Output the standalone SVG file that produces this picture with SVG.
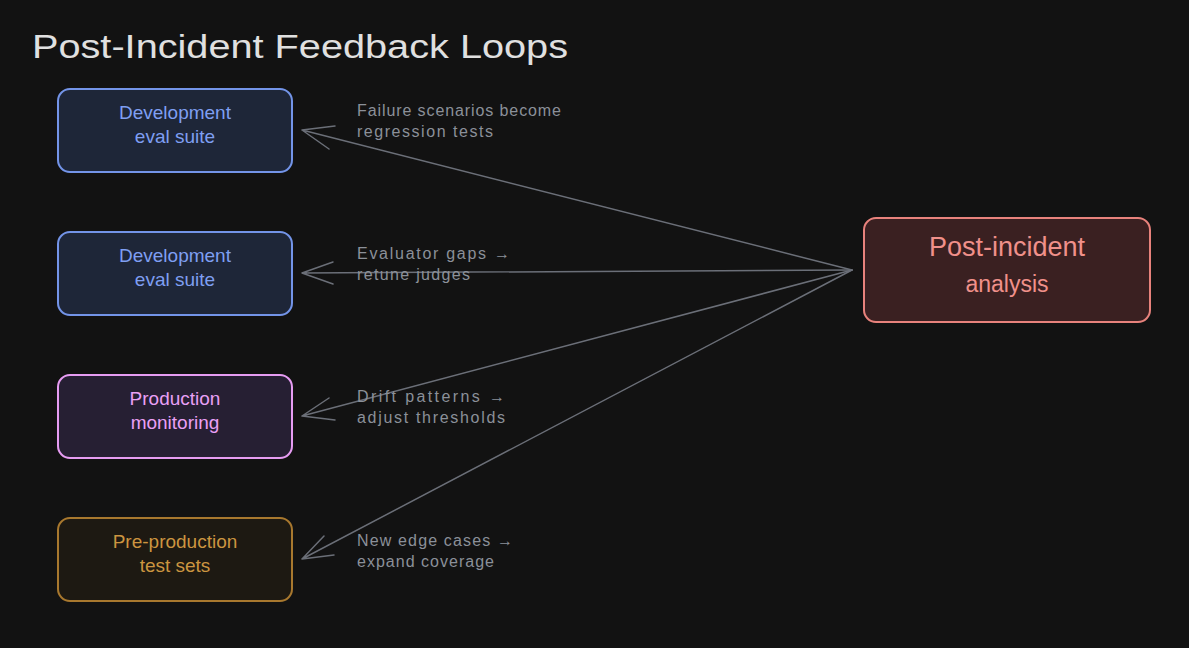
<svg xmlns="http://www.w3.org/2000/svg" width="1189" height="648" viewBox="0 0 1189 648">
<style>
text{font-family:"Liberation Sans","Open Sans",sans-serif}
.title{font-size:34px;fill:#e0e0e0}
.node rect{stroke-width:2}
.nt{font-size:19px;text-anchor:middle}
.lbl{font-size:16px;fill:#8b9099}
.conn path{fill:none;stroke:#6b6f78;stroke-width:1.5;stroke-linecap:round;stroke-linejoin:round}
.blue rect{fill:#1e2638;stroke:#7394e8}
.blue text{fill:#7f9ff2}
.pink rect{fill:#261f33;stroke:#e69cf2}
.pink text{fill:#eaa0f6}
.gold rect{fill:#1d1912;stroke:#a8782e}
.gold text{fill:#cc9540}
.red rect{fill:#3a2021;stroke:#e8827c}
.red text{fill:#f0908a}
</style>
<rect width="1189" height="648" fill="#121212"/>
<text class="title" x="32" y="58" textLength="536" lengthAdjust="spacingAndGlyphs">Post-Incident Feedback Loops</text>
<g class="conn" id="connectors">
<path d="M852 270 L302 130 M335 126 L302 130 L329 149"/>
<path d="M852 270 L302 273 M333 262 L302 273 L333 284"/>
<path d="M852 270 L302 416 M329 398 L302 416 L335 420"/>
<path d="M852 270 L302 559 M324 536 L302 559 L334 555"/>
</g>
<g id="node-dev1" class="node blue">
<rect x="58" y="89" width="234" height="83" rx="12"/>
<text class="nt" x="175" y="119">Development</text>
<text class="nt" x="175" y="143">eval suite</text>
</g>
<g id="node-dev2" class="node blue">
<rect x="58" y="232" width="234" height="83" rx="12"/>
<text class="nt" x="175" y="262">Development</text>
<text class="nt" x="175" y="286">eval suite</text>
</g>
<g id="node-prod" class="node pink">
<rect x="58" y="375" width="234" height="83" rx="12"/>
<text class="nt" x="175" y="405">Production</text>
<text class="nt" x="175" y="429">monitoring</text>
</g>
<g id="node-preprod" class="node gold">
<rect x="58" y="518" width="234" height="83" rx="12"/>
<text class="nt" x="175" y="548">Pre-production</text>
<text class="nt" x="175" y="572">test sets</text>
</g>
<g id="node-post" class="node red">
<rect x="864" y="218" width="286" height="104" rx="12"/>
<text class="nt" x="1007" y="256" style="font-size:27px">Post-incident</text>
<text class="nt" x="1007" y="292" style="font-size:23px">analysis</text>
</g>
<g id="labels">
<text class="lbl" x="357" y="116" textLength="204">Failure scenarios become</text>
<text class="lbl" x="357" y="137" textLength="136">regression tests</text>
<text class="lbl" x="357" y="259" textLength="153">Evaluator gaps →</text>
<text class="lbl" x="357" y="280" textLength="113">retune judges</text>
<text class="lbl" x="357" y="402" textLength="148">Drift patterns →</text>
<text class="lbl" x="357" y="423" textLength="148">adjust thresholds</text>
<text class="lbl" x="357" y="546" textLength="156">New edge cases →</text>
<text class="lbl" x="357" y="567" textLength="137">expand coverage</text>
</g>
</svg>
